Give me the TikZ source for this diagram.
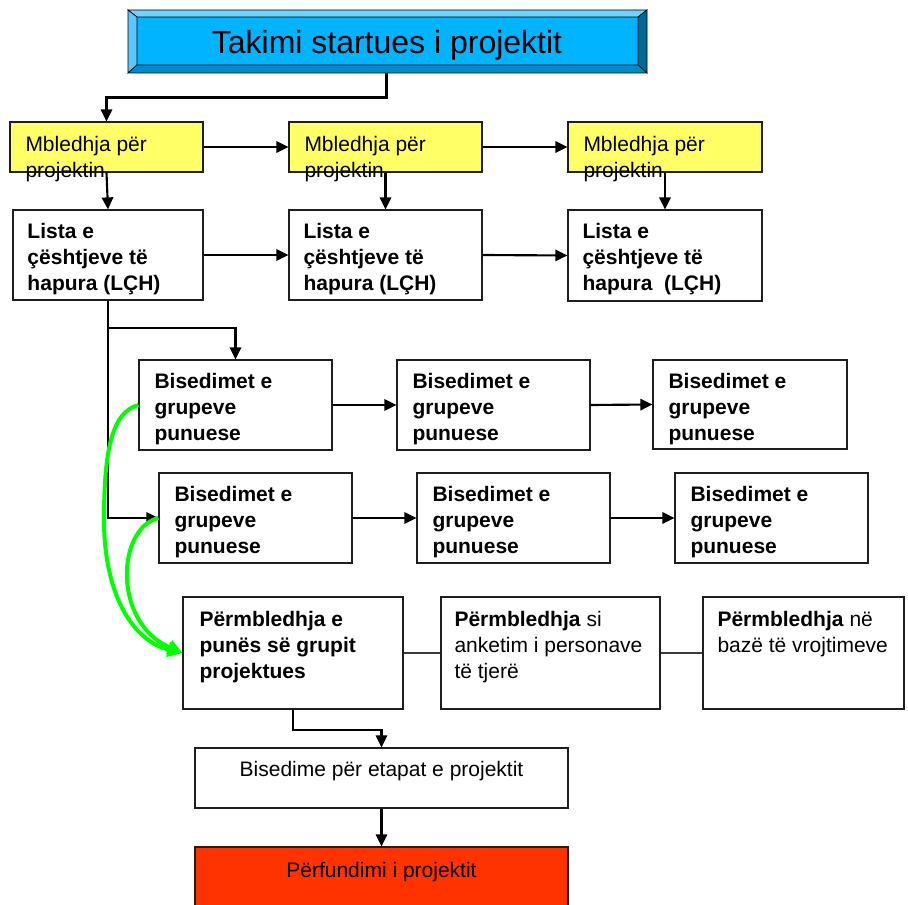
\documentclass[tikz,border=0pt]{standalone}
\usepackage{fontspec}
\setmainfont{Liberation Sans}
\usetikzlibrary{fit,arrows.meta}

\newcommand{\st}{\rule{0pt}{11.6pt}}

\tikzset{every picture/.style={line width=0.75pt}}

\begin{document}
\begin{tikzpicture}[x=0.75pt,y=0.75pt,yscale=-1,xscale=1,
  box/.style={draw={rgb, 255:red, 30; green, 30; blue, 30 }, line width=0.9pt, inner sep=0pt},
  yel/.style={box, fill={rgb, 255:red, 255; green, 255; blue, 102 }},
  txt/.style={anchor=north west, inner sep=0pt, align=left, font=\fontsize{15.75}{19.5}\selectfont},
  ctxt/.style={anchor=base, inner sep=0pt, font=\fontsize{15.75}{19.5}\selectfont},
  arr/.style={line width=1.6pt, -{Triangle[length=9pt,width=8.5pt]}},
  link/.style={line width=0.9pt, draw={rgb, 255:red, 60; green, 60; blue, 60 }},
  grn/.style={line width=3pt, draw={rgb, 255:red, 0; green, 255; blue, 0 }, -{Triangle[length=11pt,width=11pt]}}]
\useasboundingbox (0,0) rectangle (908,905);

%Shape: Bevel (title)
\fill [fill={rgb, 255:red, 0; green, 180; blue, 255 }] (137,17) rectangle (638,65) ;
\draw [fill={rgb, 255:red, 110; green, 212; blue, 255 }, line width=0.5pt] (128,10) -- (647,10) -- (638,17) -- (137,17) -- cycle ;
\draw [fill={rgb, 255:red, 90; green, 200; blue, 255 }, line width=0.5pt] (128,10) -- (137,17) -- (137,65) -- (128,73) -- cycle ;
\draw [fill={rgb, 255:red, 0; green, 105; blue, 150 }, line width=0.5pt] (647,10) -- (647,73) -- (638,65) -- (638,17) -- cycle ;
\draw [fill={rgb, 255:red, 0; green, 140; blue, 200 }, line width=0.5pt] (128,73) -- (647,73) -- (638,65) -- (137,65) -- cycle ;
\node [fit={(128,10) (645,73)}, inner sep=0pt] (title) {} ;
% Text Node
\node [anchor=base, inner sep=0pt, font=\fontsize{24}{28}\selectfont] (titlet) at (387,54) {Takimi startues i projektit} ;

%Shape: Rectangle (mbledhja)
\node [yel, fit={(10,122) (203,172)}] (yel1) {} ;
\node [yel, fit={(289,122) (482,172)}] (yel2) {} ;
\node [yel, fit={(568,122) (762,172)}] (yel3) {} ;
% Text Node
\node [txt] (yel1t) at (25,135.5) {\st Mbledhja për\\projektin} ;
\node [txt] (yel2t) at (304,135.5) {\st Mbledhja për\\projektin} ;
\node [txt] (yel3t) at (583,135.5) {\st Mbledhja për\\projektin} ;

%Shape: Rectangle (lista)
\node [box, fit={(13,210) (203,300)}] (lista1) {} ;
\node [box, fit={(289,210) (482,300)}] (lista2) {} ;
\node [box, fit={(568,210) (762,301)}] (lista3) {} ;
% Text Node
\node [txt, font=\fontsize{15.75}{19.5}\selectfont\bfseries] (lista1t) at (27,222.5) {\st Lista e\\çështjeve të\\hapura (LÇH)} ;
\node [txt, font=\fontsize{15.75}{19.5}\selectfont\bfseries] (lista2t) at (303,222.5) {\st Lista e\\çështjeve të\\hapura (LÇH)} ;
\node [txt, font=\fontsize{15.75}{19.5}\selectfont\bfseries] (lista3t) at (582,222.5) {\st Lista e\\çështjeve të\\hapura\ \ (LÇH)} ;

%Shape: Rectangle (bisedimet)
\node [box, fit={(139,360) (332,450)}] (bis11) {} ;
\node [box, fit={(397,360) (590,450)}] (bis12) {} ;
\node [box, fit={(653,360) (847,449)}] (bis13) {} ;
\node [box, fit={(159,473) (352,563)}] (bis21) {} ;
\node [box, fit={(417,473) (610,563)}] (bis22) {} ;
\node [box, fit={(675,473) (868,563)}] (bis23) {} ;
% Text Node
\node [txt, font=\fontsize{15.75}{19.5}\selectfont\bfseries] (bis11t) at (154,372.5) {\st Bisedimet e\\grupeve\\punuese} ;
\node [txt, font=\fontsize{15.75}{19.5}\selectfont\bfseries] (bis12t) at (412,372.5) {\st Bisedimet e\\grupeve\\punuese} ;
\node [txt, font=\fontsize{15.75}{19.5}\selectfont\bfseries] (bis13t) at (668,372.5) {\st Bisedimet e\\grupeve\\punuese} ;
\node [txt, font=\fontsize{15.75}{19.5}\selectfont\bfseries] (bis21t) at (174,486) {\st Bisedimet e\\grupeve\\punuese} ;
\node [txt, font=\fontsize{15.75}{19.5}\selectfont\bfseries] (bis22t) at (432,486) {\st Bisedimet e\\grupeve\\punuese} ;
\node [txt, font=\fontsize{15.75}{19.5}\selectfont\bfseries] (bis23t) at (690,486) {\st Bisedimet e\\grupeve\\punuese} ;

%Shape: Rectangle (permbledhja)
\node [box, fit={(183,597) (403,709)}] (sum1) {} ;
\node [box, fit={(441,597) (660,709)}] (sum2) {} ;
\node [box, fit={(703,597) (904,709)}] (sum3) {} ;
% Text Node
\node [txt, font=\fontsize{15.75}{19.5}\selectfont\bfseries] (sum1t) at (199,610.5) {\st Përmbledhja e\\punës së grupit\\projektues} ;
\node [txt] (sum2t) at (454,610.5) {\st \textbf{Përmbledhja} si\\anketim i personave\\të tjerë} ;
\node [txt] (sum3t) at (717,610.5) {\st \textbf{Përmbledhja} në\\bazë të vrojtimeve} ;

%Shape: Rectangle (etapat, fundi)
\node [box, fit={(195,748) (568,808)}] (etapa) {} ;
\node [box, fill={rgb, 255:red, 255; green, 51; blue, 0 }, fit={(195,847) (568,915)}] (fund) {} ;
% Text Node
\node [ctxt] (etapat) at (381.5,777) {Bisedime për etapat e projektit} ;
\node [ctxt] (fundt) at (381.5,877) {Përfundimi i projektit} ;

%Straight Lines
\draw [arr] (title.south) -- ++(0,24) -| (yel1.north) ;
\draw [arr] (yel1.east) -- (yel2.west) ;
\draw [arr] (yel2.east) -- (yel3.west) ;
\draw [arr] (yel1.south) -- (lista1.north) ;
\draw [arr] (yel2.south) -- (lista2.north) ;
\draw [arr] (yel3.south) -- (lista3.north) ;
\draw [arr] (lista1.east) -- (lista2.west) ;
\draw [arr] (lista2.east) -- (lista3.west) ;
\coordinate (split) at (lista1.south |- 0,328) ;
\draw [arr] (lista1.south) |- (bis21.west) ;
\draw [arr] (split) -| (bis11.north) ;
\draw [arr] (bis11.east) -- (bis12.west) ;
\draw [arr] (bis12.east) -- (bis13.west) ;
\draw [arr] (bis21.east) -- (bis22.west) ;
\draw [arr] (bis22.east) -- (bis23.west) ;
\draw [link] (sum1.east) -- (sum2.west) ;
\draw [link] (sum2.east) -- (sum3.west) ;
\draw [arr] (sum1.south) -- ++(0,20) -| (etapa.north) ;
\draw [arr] (etapa.south) -- (fund.north) ;

%Curve Lines
\draw [grn] (bis11.west) .. controls (112,412) and (104,450) .. (104,520) .. controls (104,590) and (130,640) .. (sum1.west) ;
\draw [grn] (bis21.west) .. controls (117,528) and (112,622) .. (sum1.west) ;

\end{tikzpicture}
\end{document}
